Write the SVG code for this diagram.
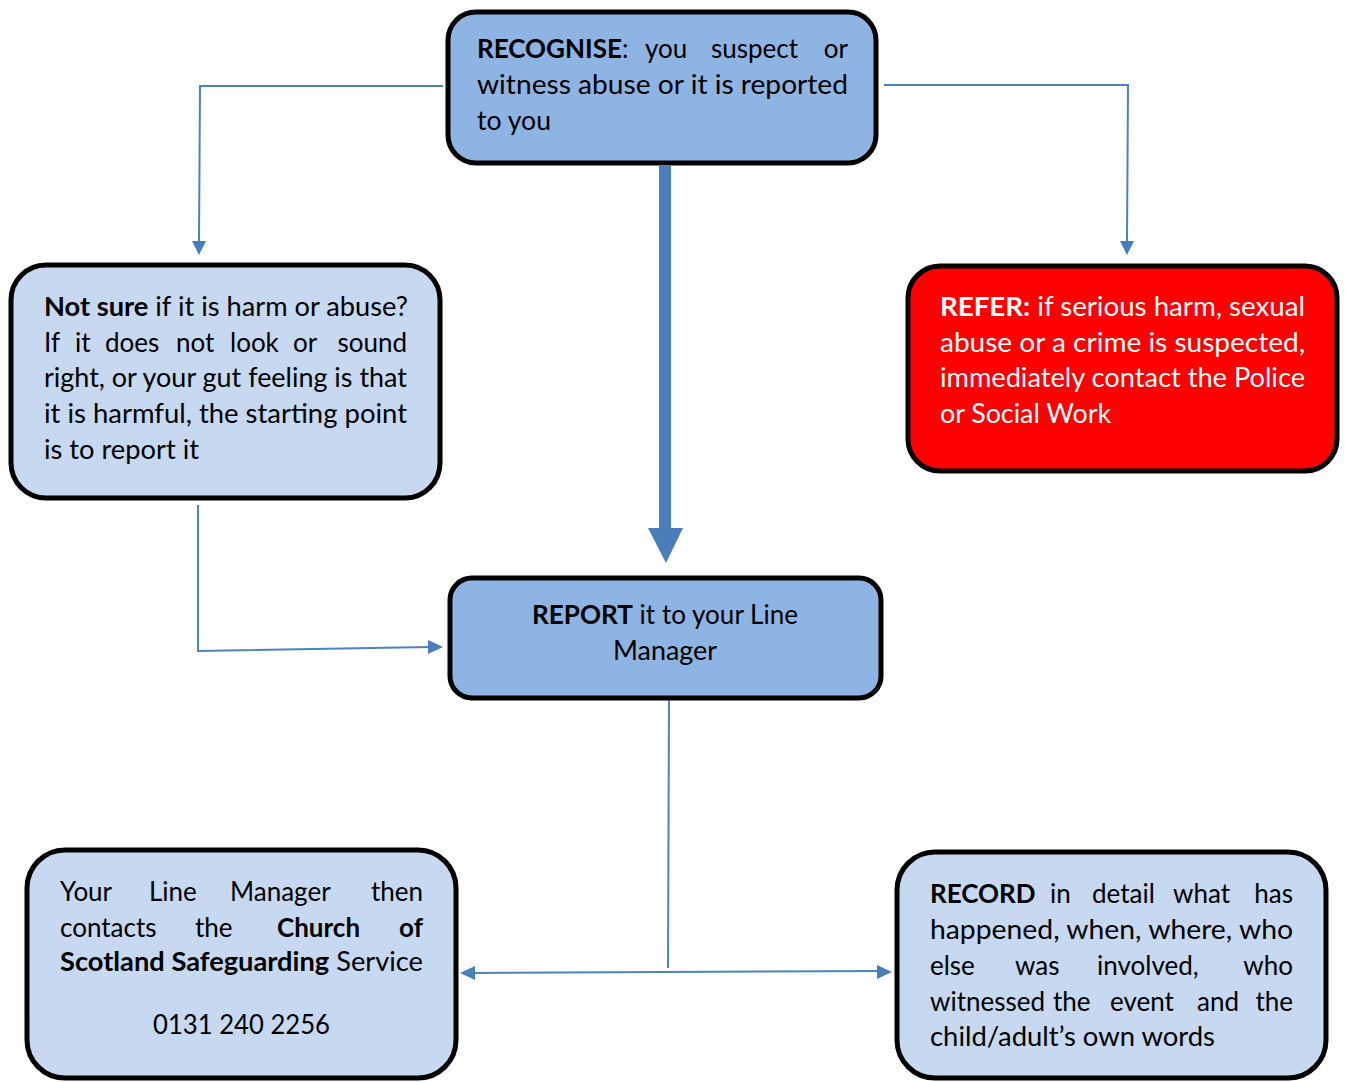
<svg xmlns="http://www.w3.org/2000/svg" width="1346" height="1082" viewBox="0 0 1346 1082">
<style>
  .box { stroke: #000; stroke-width: 5; }
  .dark { fill: #8EB4E3; }
  .light { fill: #C6D9F1; }
  .red { fill: #FF0000; }
  .t { font-family: Lato, "Open Sans", "Liberation Sans", sans-serif; font-size: 26px; fill: #000; }
  .w { fill: #FFFFFF; }
  .b { font-weight: bold; }
  .e { text-anchor: end; }
  .ln { fill: none; stroke: #4F81BD; stroke-width: 2; }
  .ah { fill: #4A7EBB; }
</style>
<rect width="1346" height="1082" fill="#FFFFFF"/>

<g id="connectors">
  <path class="ln" d="M443,86 H200 L199,242"/>
  <polygon class="ah" points="192,241 206,241 199,255"/>
  <path class="ln" d="M884,85 H1128 L1127,242"/>
  <polygon class="ah" points="1120,241 1134,241 1127,255"/>
  <rect class="ah" x="659" y="166" width="12" height="364"/>
  <polygon class="ah" points="648,528 683,528 666,563"/>
  <path class="ln" d="M198,505 V651 L430,647"/>
  <polygon class="ah" points="428,640 428,654 443,647"/>
  <path class="ln" d="M669,698 L668,968"/>
  <path class="ln" d="M472,973 L880,971"/>
  <polygon class="ah" points="475,966 475,980 460,973"/>
  <polygon class="ah" points="877,965 877,979 892,972"/>
</g>

<g id="recognise">
  <rect class="box dark" x="448" y="12" width="428" height="151" rx="28"/>
  <text class="t" y="58"><tspan x="477" class="b">RECOGNISE</tspan><tspan>:</tspan><tspan x="645">you</tspan><tspan x="711">suspect</tspan></text>
  <text class="t e" x="848" y="58">or</text>
  <text class="t" x="477" y="94" textLength="371" lengthAdjust="spacingAndGlyphs">witness abuse or it is reported</text>
  <text class="t" x="477" y="130" textLength="74" lengthAdjust="spacingAndGlyphs">to you</text>
</g>

<g id="not-sure">
  <rect class="box light" x="11" y="265" width="429" height="233" rx="35"/>
  <text class="t" x="44" y="316" textLength="364" lengthAdjust="spacingAndGlyphs"><tspan class="b">Not sure</tspan> if it is harm or abuse?</text>
  <text class="t" y="352"><tspan x="44">If</tspan><tspan x="75">it</tspan><tspan x="105">does</tspan><tspan x="176">not</tspan><tspan x="230">look</tspan><tspan x="293">or</tspan></text>
  <text class="t e" x="407" y="352">sound</text>
  <text class="t" x="44" y="387" textLength="363" lengthAdjust="spacingAndGlyphs">right, or your gut feeling is that</text>
  <text class="t" x="44" y="423" textLength="363" lengthAdjust="spacingAndGlyphs">it is harmful, the starting point</text>
  <text class="t" x="44" y="459" textLength="155" lengthAdjust="spacingAndGlyphs">is to report it</text>
</g>

<g id="refer">
  <rect class="box red" x="908" y="266" width="429" height="205" rx="32"/>
  <text class="t w" x="940" y="316" textLength="365" lengthAdjust="spacingAndGlyphs"><tspan class="b">REFER:</tspan> if serious harm, sexual</text>
  <text class="t w" x="940" y="352" textLength="365" lengthAdjust="spacingAndGlyphs">abuse or a crime is suspected,</text>
  <text class="t w" x="940" y="387" textLength="365" lengthAdjust="spacingAndGlyphs">immediately contact the Police</text>
  <text class="t w" x="940" y="423" textLength="171" lengthAdjust="spacingAndGlyphs">or Social Work</text>
</g>

<g id="report">
  <rect class="box dark" x="450" y="578" width="431" height="120" rx="22"/>
  <text class="t" x="532" y="624" textLength="266" lengthAdjust="spacingAndGlyphs"><tspan class="b">REPORT</tspan> it to your Line</text>
  <text class="t" x="613" y="660" textLength="104" lengthAdjust="spacingAndGlyphs">Manager</text>
</g>

<g id="line-manager">
  <rect class="box light" x="27" y="850" width="429" height="228" rx="38"/>
  <text class="t" y="901"><tspan x="60">Your</tspan><tspan x="149">Line</tspan><tspan x="230">Manager</tspan></text>
  <text class="t e" x="423" y="901">then</text>
  <text class="t" y="937"><tspan x="60">contacts</tspan><tspan x="195">the</tspan><tspan x="277" class="b">Church</tspan></text>
  <text class="t e b" x="423" y="937">of</text>
  <text class="t" x="60" y="971" textLength="363" lengthAdjust="spacingAndGlyphs"><tspan class="b">Scotland Safeguarding</tspan> Service</text>
  <text class="t" x="153" y="1034" textLength="177" lengthAdjust="spacingAndGlyphs">0131 240 2256</text>
</g>

<g id="record">
  <rect class="box light" x="897" y="852" width="429" height="226" rx="38"/>
  <text class="t" y="903"><tspan x="930" class="b">RECORD</tspan><tspan x="1050">in</tspan><tspan x="1092">detail</tspan><tspan x="1173">what</tspan></text>
  <text class="t e" x="1293" y="903">has</text>
  <text class="t" x="930" y="939" textLength="363" lengthAdjust="spacingAndGlyphs">happened, when, where, who</text>
  <text class="t" y="975"><tspan x="930">else</tspan><tspan x="1015">was</tspan><tspan x="1097">involved,</tspan></text>
  <text class="t e" x="1293" y="975">who</text>
  <text class="t" y="1011"><tspan x="930">witnessed</tspan><tspan x="1053">the</tspan><tspan x="1110">event</tspan><tspan x="1197">and</tspan></text>
  <text class="t e" x="1293" y="1011">the</text>
  <text class="t" x="930" y="1046" textLength="285" lengthAdjust="spacingAndGlyphs">child/adult’s own words</text>
</g>
</svg>
